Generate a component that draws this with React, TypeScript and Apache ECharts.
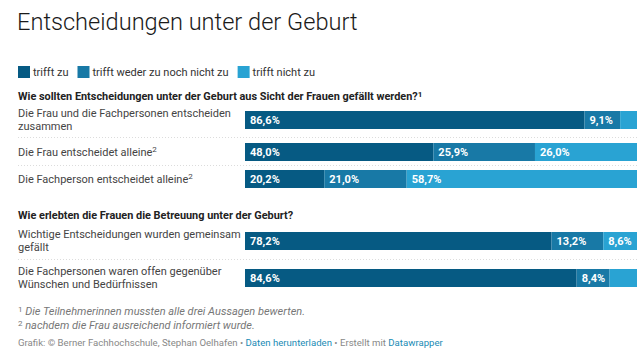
import React, { useEffect, useRef } from "react";
import * as echarts from "echarts";

const TITLE = "Entscheidungen unter der Geburt";
const SUBTITLE_1 = "Wie sollten Entscheidungen unter der Geburt aus Sicht der Frauen gefällt werden?";
const SUBTITLE_2 = "Wie erlebten die Frauen die Betreuung unter der Geburt?";
const SERIES_NAMES = ["trifft zu", "trifft weder zu noch nicht zu", "trifft nicht zu"];
const COLORS = ["#065a83", "#1879a6", "#29a3d3"];

const categories = [
  "Die Frau und die Fachpersonen entscheiden\nzusammen",
  "Die Frau entscheidet alleine²",
  "Die Fachperson entscheidet alleine²",
  "Wichtige Entscheidungen wurden gemeinsam\ngefällt",
  "Die Fachpersonen waren offen gegenüber\nWünschen und Bedürfnissen",
];
const trifftZu = [86.6, 48.0, 20.2, 78.2, 84.6];
const trifftWeder = [9.1, 25.9, 21.0, 13.2, 8.4];
const trifftNicht = [4.3, 26.0, 58.7, 8.6, 7.0];

const FOOTNOTE_1 = "Die Teilnehmerinnen mussten alle drei Aussagen bewerten.";
const FOOTNOTE_2 = "nachdem die Frau ausreichend informiert wurde.";

// layout (pixels)
const rowTops = [111, 143, 170, 232, 269];
const ROW_H = 18;
const BAR_LEFT = 245;
const BAR_RIGHT = 3;

export default function App() {
  const ref = useRef<HTMLDivElement>(null);
  useEffect(() => {
    document.body.style.margin = "0";
    if (!ref.current) return;
    const chart = echarts.init(ref.current, null, { renderer: "svg" });
    const font = "Roboto, 'Noto Sans', sans-serif";
    const values = [trifftZu, trifftWeder, trifftNicht];

    const grids: any[] = [];
    const xAxes: any[] = [];
    const yAxes: any[] = [];
    const series: any[] = [];
    categories.forEach((cat, i) => {
      grids.push({ left: BAR_LEFT, right: BAR_RIGHT, top: rowTops[i], height: ROW_H, containLabel: false });
      const total = trifftZu[i] + trifftWeder[i] + trifftNicht[i];
      xAxes.push({ type: "value", gridIndex: i, min: 0, max: total, show: false });
      yAxes.push({
        type: "category",
        gridIndex: i,
        data: [cat],
        axisLine: { show: false },
        axisTick: { show: false },
        splitLine: { show: false },
        axisLabel: {
          show: true,
          align: "left",
          margin: BAR_LEFT - 18,
          fontFamily: font,
          fontSize: 11,
          color: "#444",
          lineHeight: 13,
          formatter: (v: string) => v.replace(/²/g, "{sup|2}"),
          rich: {
            sup: { fontSize: 8, verticalAlign: "top", color: "#444", fontFamily: font, lineHeight: 13 },
          },
        },
      });
      SERIES_NAMES.forEach((name, s) => {
        series.push({
          type: "bar",
          name,
          xAxisIndex: i,
          yAxisIndex: i,
          stack: "row" + i,
          barWidth: ROW_H,
          itemStyle: { color: COLORS[s] },
          label: {
            show: true,
            position: "insideLeft",
            distance: 5,
            color: "#fff",
            fontFamily: font,
            fontWeight: "bold",
            fontSize: 11,
            formatter: (p: any) => (p.value >= 8 ? p.value.toFixed(1).replace(".", ",") + "%" : ""),
          },
          data: [values[s][i]],
        });
      });
    });

    const sepLine = (y: number) => ({
      type: "line",
      shape: { x1: 18, y1: y, x2: 637, y2: y },
      style: { stroke: "#dcdcdc", lineWidth: 1, lineDash: [1, 2] },
      silent: true,
    });

    const sup = (fill: string, bold = false) => ({
      fontSize: 8,
      verticalAlign: "top",
      fill,
      fontWeight: bold ? "bold" : "normal",
      fontFamily: font,
      padding: [0, 0, 5, 0],
    });

    chart.setOption({
      animation: false,
      title: {
        text: TITLE,
        left: 17,
        top: 10,
        padding: 0,
        textStyle: { fontFamily: font, fontSize: 23.6, fontWeight: 300, color: "#1a1a1a" },
      },
      legend: {
        data: SERIES_NAMES,
        left: 18,
        top: 66,
        padding: 0,
        itemWidth: 12,
        itemHeight: 12,
        itemGap: 9,
        icon: "rect",
        selectedMode: false,
        textStyle: { fontFamily: font, fontSize: 11, color: "#333", padding: [0, 0, 0, -2] },
      },
      grid: grids,
      xAxis: xAxes,
      yAxis: yAxes,
      series,
      graphic: [
        sepLine(137.5),
        sepLine(165.5),
        sepLine(259.5),
        {
          type: "text",
          left: 18,
          top: 90,
          style: {
            text: SUBTITLE_1 + "{sup|1}",
            fontFamily: font,
            fontSize: 10.9,
            fontWeight: "bold",
            fill: "#222",
            rich: { sup: sup("#222", true) },
          },
        },
        {
          type: "text",
          left: 18,
          top: 210,
          style: { text: SUBTITLE_2, fontFamily: font, fontSize: 10.9, fontWeight: "bold", fill: "#222" },
        },
        {
          type: "text",
          left: 18,
          top: 305,
          style: {
            text: "{sup|1} " + FOOTNOTE_1,
            fontFamily: font,
            fontSize: 11,
            fontStyle: "italic",
            fill: "#777",
            rich: { sup: sup("#777") },
          },
        },
        {
          type: "text",
          left: 18,
          top: 319,
          style: {
            text: "{sup|2} " + FOOTNOTE_2,
            fontFamily: font,
            fontSize: 11,
            fontStyle: "italic",
            fill: "#777",
            rich: { sup: sup("#777") },
          },
        },
        {
          type: "text",
          left: 18,
          top: 337,
          style: {
            text: "Grafik: © Berner Fachhochschule, Stephan Oelhafen • {link|Daten herunterladen} • Erstellt mit {link|Datawrapper}",
            fontFamily: font,
            fontSize: 9.6,
            fill: "#888",
            rich: { link: { fill: "#1a8bb5", fontFamily: font, fontSize: 9.6 } },
          },
        },
      ],
    });
    return () => chart.dispose();
  }, []);
  return <div ref={ref} style={{ width: 640, height: 364 }} />;
}
